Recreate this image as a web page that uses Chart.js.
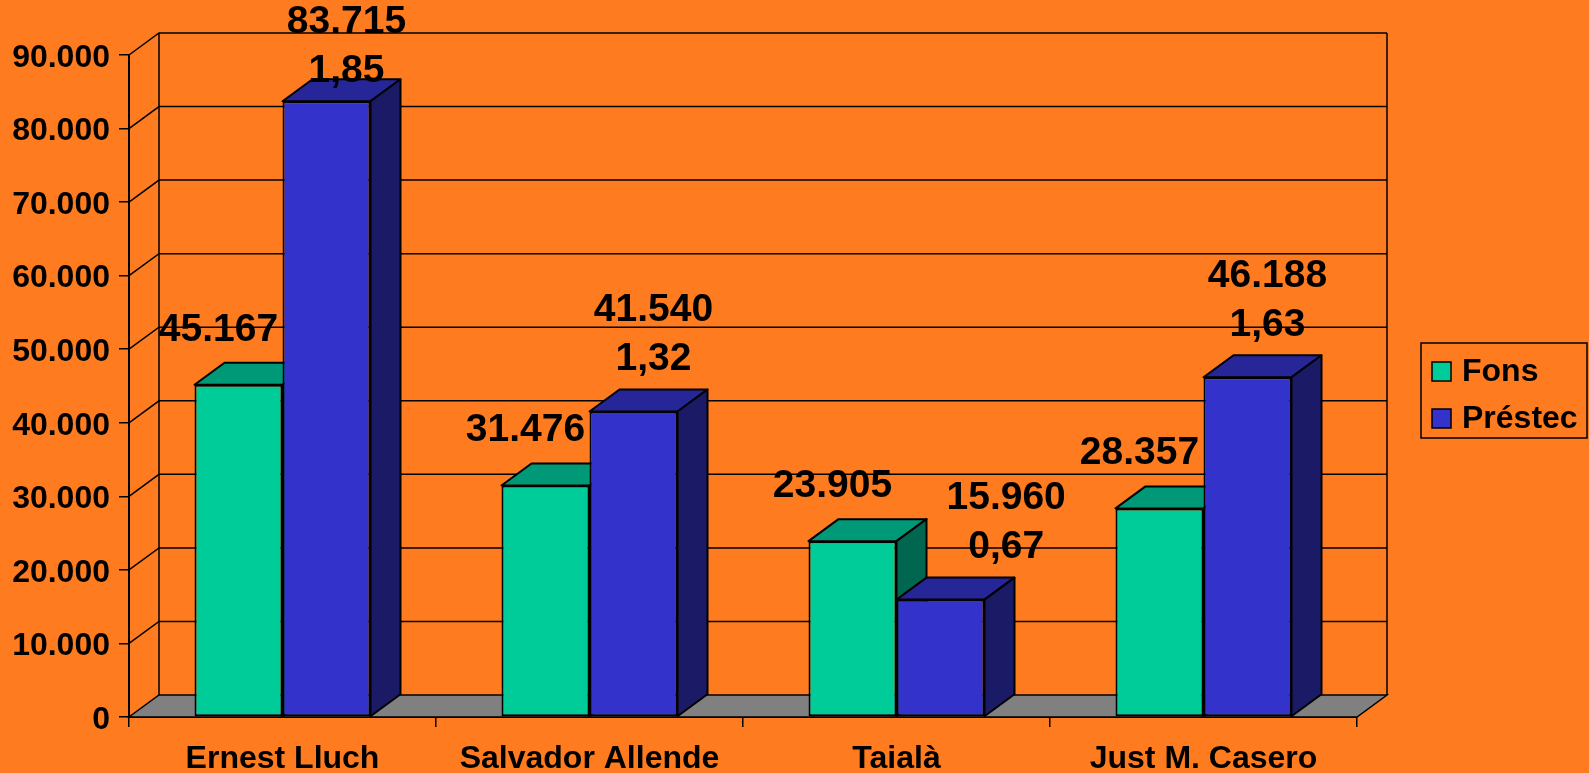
<!DOCTYPE html>
<html>
<head>
<meta charset="utf-8">
<script src="https://cdn.jsdelivr.net/npm/chart.js@4"></script>
<style>
html, body { margin: 0; padding: 0; background: #FF7B1F; overflow: hidden; }
canvas { display: block; }
</style>
</head>
<body>
<canvas id="chart" width="1589" height="773"></canvas>
<script>
// dades llegides del gràfic
const categories = ['Ernest Lluch', 'Salvador Allende', 'Taialà', 'Just M. Casero'];
const fons = [45167, 31476, 23905, 28357];
const prestec = [83715, 41540, 15960, 46188];
const ratio = ['1,85', '1,32', '0,67', '1,63'];
const seriesNames = ['Fons', 'Préstec'];

const ORANGE = '#FF7B1F';
const DX = 30, DY = 22; // fondària 3D
const FONT = '"Liberation Sans", Arial, sans-serif';

const colors = [
    { front: '#00CC99', top: '#009977', side: '#006650' },
    { front: '#3333CC', top: '#262699', side: '#1A1A66' }
];

function fmt(v) {
    return String(v).replace(/\B(?=(\d{3})+(?!\d))/g, '.');
}

function poly(ctx, pts, fill) {
    ctx.beginPath();
    ctx.moveTo(pts[0][0], pts[0][1]);
    for (let i = 1; i < pts.length; i++) ctx.lineTo(pts[i][0], pts[i][1]);
    ctx.closePath();
    if (fill) { ctx.fillStyle = fill; ctx.fill(); }
    ctx.stroke();
}

function drawFaces(chart, dsIndex) {
    const ctx = chart.ctx;
    const meta = chart.getDatasetMeta(dsIndex);
    const c = colors[dsIndex];
    ctx.save();
    ctx.strokeStyle = '#000';
    ctx.lineWidth = 2;
    ctx.lineJoin = 'round';
    meta.data.forEach(bar => {
        const { x, y, base, width } = bar.getProps(['x', 'y', 'base', 'width'], true);
        const x1 = x - width / 2, x2 = x + width / 2;
        poly(ctx, [[x1, y], [x2, y], [x2 + DX, y - DY], [x1 + DX, y - DY]], c.top);
        poly(ctx, [[x2, y], [x2 + DX, y - DY], [x2 + DX, base - DY], [x2, base]], c.side);
    });
    ctx.restore();
}

const box3d = {
    id: 'box3d',
    beforeDraw(chart) {
        const ctx = chart.ctx;
        ctx.save();
        ctx.fillStyle = ORANGE;
        ctx.fillRect(0, 0, chart.width, chart.height);
        ctx.restore();
    },
    beforeDatasetsDraw(chart) {
        const { ctx, chartArea: a, scales: { y } } = chart;
        ctx.save();
        ctx.strokeStyle = '#000';
        ctx.lineWidth = 1.5;
        // parets i línies de graella
        y.ticks.forEach(t => {
            const py = y.getPixelForValue(t.value);
            if (t.value === 0) return;
            ctx.beginPath();
            ctx.moveTo(a.left, py);
            ctx.lineTo(a.left + DX, py - DY);
            ctx.lineTo(a.right + DX, py - DY);
            ctx.stroke();
        });
        ctx.beginPath();
        ctx.moveTo(a.left + DX, a.top - DY);
        ctx.lineTo(a.left + DX, a.bottom - DY);
        ctx.moveTo(a.right + DX, a.top - DY);
        ctx.lineTo(a.right + DX, a.bottom - DY);
        ctx.stroke();
        // terra
        poly(ctx, [[a.left, a.bottom], [a.right, a.bottom], [a.right + DX, a.bottom - DY], [a.left + DX, a.bottom - DY]], '#808080');
        ctx.restore();
        drawFaces(chart, 0);
    },
    afterDatasetsDraw(chart) {
        const ctx = chart.ctx;
        drawFaces(chart, 1);

        // etiquetes de valors
        ctx.save();
        ctx.fillStyle = '#000';
        ctx.font = 'bold 39px ' + FONT;
        ctx.textAlign = 'center';
        ctx.textBaseline = 'middle';
        const greenBars = chart.getDatasetMeta(0).data;
        greenBars.forEach((bar, i) => {
            ctx.fillText(fmt(fons[i]), bar.x - 20, bar.y - DY - 33);
        });
        chart.getDatasetMeta(1).data.forEach((bar, i) => {
            let second = bar.y - DY - 30;
            let first = second - 49;
            if (first < 22) { second += 22 - first; first = 22; }
            let lx = bar.x + 20;
            const g = greenBars[i];
            if (g.y < bar.y) {
                // la barra verda és més alta: l'etiqueta s'aparta cap a la dreta
                const half = ctx.measureText(fmt(prestec[i])).width / 2;
                lx = Math.max(lx, g.x + g.width / 2 + DX + 20 + half);
            }
            ctx.fillText(fmt(prestec[i]), lx, first);
            ctx.fillText(ratio[i], lx, second);
        });

        // llegenda
        const lx = 1421, ly = 343, lw = 166, lh = 95;
        ctx.strokeStyle = '#000';
        ctx.lineWidth = 1.5;
        ctx.strokeRect(lx, ly, lw, lh);
        ctx.font = 'bold 32px ' + FONT;
        ctx.textAlign = 'left';
        seriesNames.forEach((name, i) => {
            const cy = ly + 28 + i * 47;
            ctx.fillStyle = colors[i].front;
            ctx.fillRect(lx + 11, cy - 9, 19, 19);
            ctx.strokeRect(lx + 11, cy - 9, 19, 19);
            ctx.fillStyle = '#000';
            ctx.fillText(name, lx + 41, cy + 1);
        });
        ctx.restore();
    }
};

const axisGrid = {
    drawOnChartArea: false,
    drawTicks: true,
    tickLength: 10,
    color: '#000',
    tickColor: '#000',
    lineWidth: 1.5
};

new Chart(document.getElementById('chart'), {
    type: 'bar',
    data: {
        labels: categories,
        datasets: [
            { label: seriesNames[0], data: fons, backgroundColor: colors[0].front, borderColor: '#000', borderWidth: 2, borderSkipped: false },
            { label: seriesNames[1], data: prestec, backgroundColor: colors[1].front, borderColor: '#000', borderWidth: 2, borderSkipped: false }
        ]
    },
    options: {
        responsive: false,
        devicePixelRatio: 1,
        animation: false,
        categoryPercentage: 176 / 307,
        barPercentage: 1.0,
        layout: { padding: { top: 55, right: 232, left: 0, bottom: 0 } },
        plugins: {
            legend: { display: false },
            tooltip: { enabled: false }
        },
        scales: {
            x: {
                grid: Object.assign({ offset: true }, axisGrid),
                border: { display: true, color: '#000', width: 2 },
                ticks: { color: '#000', font: { family: FONT, size: 32, weight: 'bold' }, padding: 13, maxRotation: 0 },
                afterFit(s) { s.height = 56; }
            },
            y: {
                min: 0,
                max: 90000,
                grid: axisGrid,
                border: { display: true, color: '#000', width: 2 },
                ticks: {
                    stepSize: 10000,
                    color: '#000',
                    font: { family: FONT, size: 32, weight: 'bold' },
                    padding: 9,
                    labelOffset: 3,
                    callback: v => fmt(v)
                },
                afterFit(s) { s.width = 129; }
            }
        }
    },
    plugins: [box3d]
});
</script>
</body>
</html>
